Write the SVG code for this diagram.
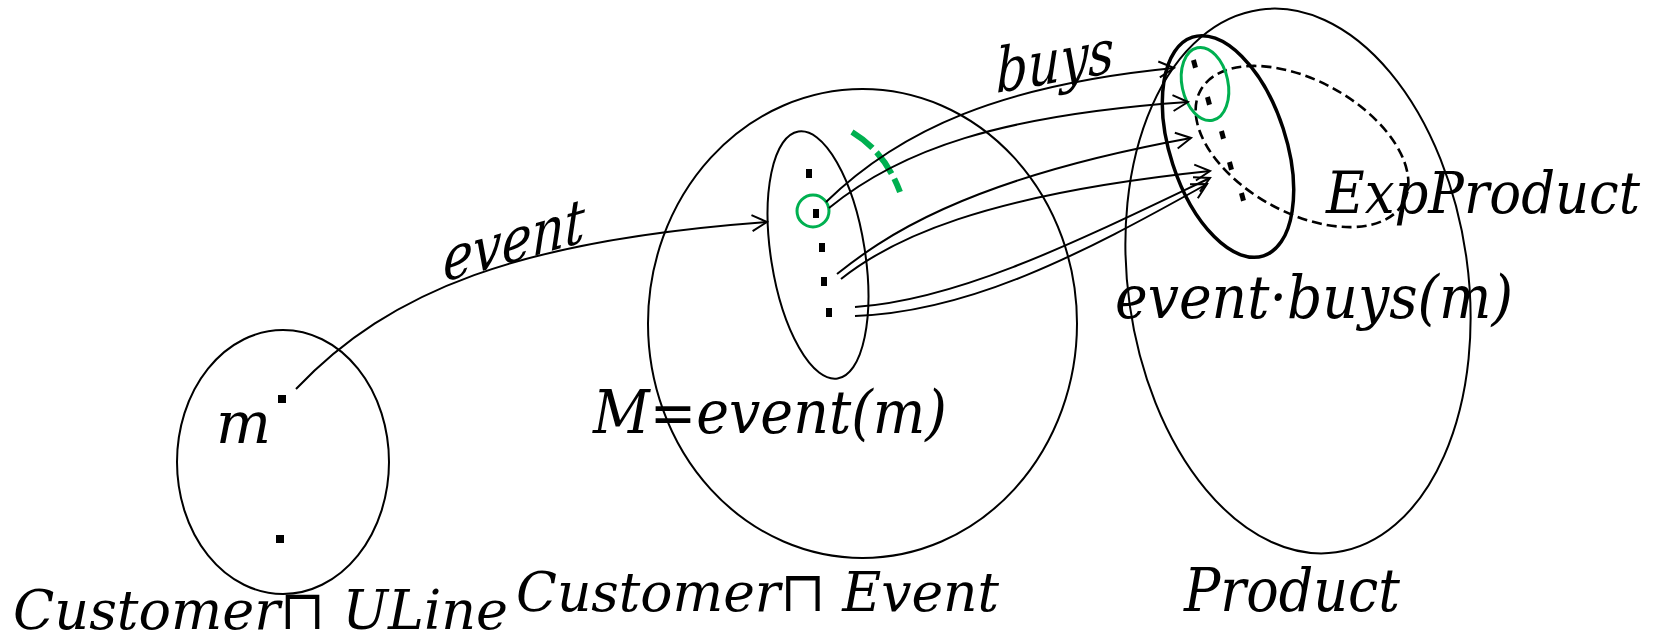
<svg xmlns="http://www.w3.org/2000/svg" width="1658" height="641" viewBox="0 0 1658 641">
<defs>
<marker id="arr" markerUnits="userSpaceOnUse" markerWidth="22" markerHeight="22" viewBox="0 0 22 22" refX="19" refY="11" orient="auto">
<path d="M4,3 L19,11 L4,19" fill="none" stroke="#000" stroke-width="2"/>
</marker>
<style>
.set{fill:none;stroke:#000;stroke-width:2}
.bold{fill:none;stroke:#000;stroke-width:3.5}
.dash{fill:none;stroke:#000;stroke-width:2.6;stroke-dasharray:10 5}
.green{fill:none;stroke:#00B050;stroke-width:3}
.gdash{fill:none;stroke:#00B050;stroke-width:6;stroke-dasharray:26 6}
.dot{fill:#000}
.lbl{font-family:"DejaVu Serif","Liberation Serif",serif;font-style:italic;fill:#000}
.conn path{fill:none;stroke:#000;stroke-width:2}
</style>
</defs>
<rect width="1658" height="641" fill="#fff"/>

<g id="customer-uline">
<ellipse class="set" cx="283" cy="462" rx="106" ry="132"/>
<rect class="dot" x="278" y="395" width="8" height="8"/>
<rect class="dot" x="276" y="535" width="8" height="8"/>
<text class="lbl" x="216" y="443" font-size="58">m</text>
<text class="lbl" x="13" y="629" font-size="54" textLength="495" lengthAdjust="spacingAndGlyphs">Customer⊓ ULine</text>
</g>

<g id="customer-event">
<ellipse class="set" cx="862.5" cy="323.5" rx="214.5" ry="234.5"/>
<text class="lbl" x="516" y="611" font-size="55" textLength="483" lengthAdjust="spacingAndGlyphs">Customer⊓ Event</text>
</g>

<g id="M">
<ellipse class="set" cx="818" cy="255" rx="47" ry="125" transform="rotate(-9 818 255)"/>
<rect class="dot" x="806" y="169" width="6" height="9"/>
<rect class="dot" x="813" y="209" width="6" height="9"/>
<rect class="dot" x="819" y="243" width="6" height="9"/>
<rect class="dot" x="821" y="277" width="6" height="9"/>
<rect class="dot" x="826" y="308" width="6" height="9"/>
<circle class="green" cx="813" cy="211" r="16"/>
<path class="gdash" d="M852,132 Q885,152 900,192"/>
<text class="lbl" x="593" y="433" font-size="60" textLength="354" lengthAdjust="spacingAndGlyphs">M=event(m)</text>
</g>

<g id="product">
<ellipse class="set" cx="1298" cy="281" rx="170" ry="274" transform="rotate(-8 1298 281)"/>
<text class="lbl" x="1184" y="611" font-size="59" textLength="216" lengthAdjust="spacingAndGlyphs">Product</text>
</g>

<g id="exp-product">
<ellipse class="dash" cx="1302" cy="146.5" rx="116" ry="66" transform="rotate(29 1302 146.5)"/>
<text class="lbl" x="1326" y="213" font-size="57" textLength="314" lengthAdjust="spacingAndGlyphs">ExpProduct</text>
</g>

<g id="event-buys-m">
<ellipse class="bold" cx="1228" cy="146.5" rx="58" ry="115" transform="rotate(-18 1228 146.5)"/>
<rect class="dot" x="1192" y="60" width="5" height="8" transform="rotate(-15 1194 64)"/>
<rect class="dot" x="1206" y="97" width="5" height="8" transform="rotate(-15 1208 101)"/>
<rect class="dot" x="1220" y="131" width="5" height="8" transform="rotate(-15 1222 135)"/>
<rect class="dot" x="1228" y="162" width="5" height="8" transform="rotate(-15 1230 166)"/>
<rect class="dot" x="1240" y="193" width="5" height="8" transform="rotate(-15 1242 197)"/>
<ellipse class="green" cx="1205" cy="84" rx="23" ry="37" transform="rotate(-12 1205 84)"/>
<text class="lbl" x="1115" y="318" font-size="60" textLength="398" lengthAdjust="spacingAndGlyphs">event·buys(m)</text>
</g>

<g id="connectors" class="conn">
<path d="M296,389 C390,290 520,240 767,222" marker-end="url(#arr)"/>
<path d="M826,202 C900,130 1000,85 1174,68" marker-end="url(#arr)"/>
<path d="M829,208 C900,150 1000,115 1188,102" marker-end="url(#arr)"/>
<path d="M837,274 C880,240 960,180 1191,138" marker-end="url(#arr)"/>
<path d="M841,279 C890,240 980,195 1210,171" marker-end="url(#arr)"/>
<path d="M855,307 C960,300 1080,240 1210,178" marker-end="url(#arr)"/>
<path d="M855,316 C970,312 1080,255 1207,184" marker-end="url(#arr)"/>
<text class="lbl" x="443" y="282" font-size="62" textLength="142" lengthAdjust="spacingAndGlyphs" transform="translate(443 282) skewY(-16) translate(-443 -282)">event</text>
<text class="lbl" x="996" y="93" font-size="62" textLength="118" lengthAdjust="spacingAndGlyphs" transform="translate(996 93) skewY(-10) translate(-996 -93)">buys</text>
</g>
</svg>
